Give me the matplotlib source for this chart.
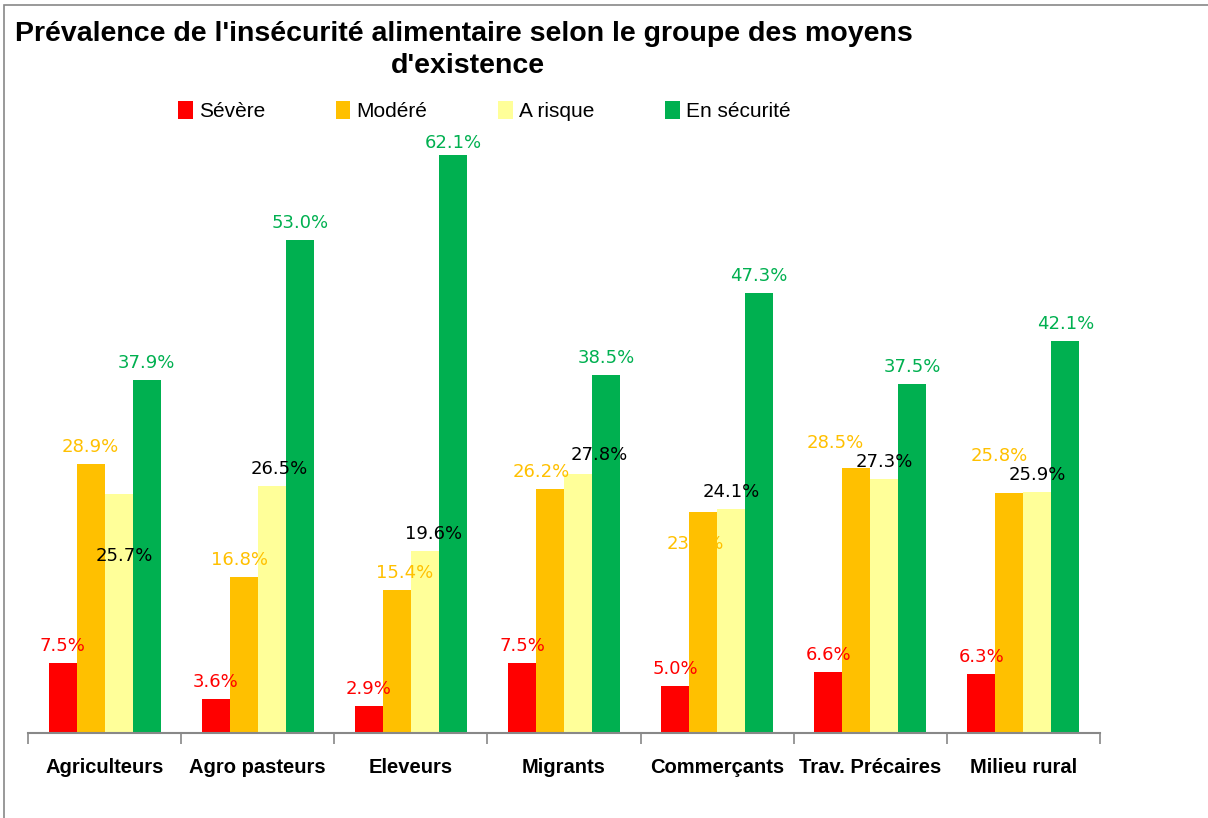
import matplotlib.pyplot as plt
import numpy as np
from matplotlib.patches import Rectangle

categories = ["Agriculteurs", "Agro pasteurs", "Eleveurs", "Migrants",
              "Commerçants", "Trav. Précaires", "Milieu rural"]
series = ["Sévère", "Modéré", "A risque", "En sécurité"]
severe = [7.5, 3.6, 2.9, 7.5, 5.0, 6.6, 6.3]
modere = [28.9, 16.8, 15.4, 26.2, 23.7, 28.5, 25.8]
risque = [25.7, 26.5, 19.6, 27.8, 24.1, 27.3, 25.9]
securite = [37.9, 53.0, 62.1, 38.5, 47.3, 37.5, 42.1]

colors = ["#ff0000", "#ffc000", "#ffff99", "#00b050"]
label_colors = ["#ff0000", "#ffc000", "#000000", "#00b050"]

# label offsets (pixels) that were moved by hand in the original
offsets = {(0, 2): (6, -62), (1, 1): (-4, 17), (1, 2): (8, 17),
           (2, 1): (8, 17), (2, 2): (9, 17), (2, 3): (0, 12),
           (3, 1): (-9, 17), (3, 2): (21, 19), (4, 1): (-8, -32),
           (5, 1): (-21, 25), (6, 1): (-10, 37)}

sans = ["Liberation Sans", "DejaVu Sans"]

fig = plt.figure(figsize=(12.08, 8.18), dpi=100)
ax = fig.add_axes([0.0232, 0.1039, 0.8874, 0.734])

values = [severe, modere, risque, securite]
x = np.arange(len(categories))
w = 0.183
for i, (vals, name) in enumerate(zip(values, series)):
    pos = x + (i - 1.5) * w
    ax.bar(pos, vals, w, color=colors[i], label=name, zorder=2)
    for j, v in enumerate(vals):
        dx, dy = offsets.get((j, i), (0, 17))
        ax.annotate(f"{v:.1f}%", (pos[j], v), xytext=(dx, dy),
                    textcoords="offset pixels", ha="center", va="center",
                    fontsize=13, color=label_colors[i], zorder=3)

ax.set_xlim(-0.5, len(categories) - 0.5)
ax.set_ylim(0, 64.5)
ax.set_yticks([])
for s in ["left", "right", "top"]:
    ax.spines[s].set_visible(False)
ax.spines["bottom"].set_color("#888888")
ax.spines["bottom"].set_linewidth(1.5)
ax.set_xticks(np.arange(len(categories) + 1) - 0.5)
ax.set_xticklabels([])
ax.tick_params(axis="x", length=8, color="#888888", width=1.2)
for j, c in enumerate(categories):
    ax.text(j, -0.058, c, transform=ax.get_xaxis_transform(), ha="center",
            va="center", fontsize=14.5, fontweight="bold", family=sans)

fig.text(0.384, 0.958, "Prévalence de l'insécurité alimentaire selon le groupe des moyens",
         ha="center", va="center", fontsize=20.5, fontweight="bold", family=sans)
fig.text(0.387, 0.919, "d'existence", ha="center", va="center",
         fontsize=20.5, fontweight="bold", family=sans)

handles, labels = ax.get_legend_handles_labels()
fig.legend(handles, labels, loc="center", bbox_to_anchor=(0.401, 0.864),
           ncol=4, frameon=False, prop={"family": sans, "size": 15},
           handlelength=0.7, handleheight=0.9, handletextpad=0.3,
           columnspacing=3.4)

fig.patches.append(Rectangle((4 / 1208, -0.01), 1.02, 1 - 5 / 818 + 0.01,
                             transform=fig.transFigure, fill=False,
                             edgecolor="#888888", linewidth=1.2))

fig.savefig("out.png", dpi=100)
